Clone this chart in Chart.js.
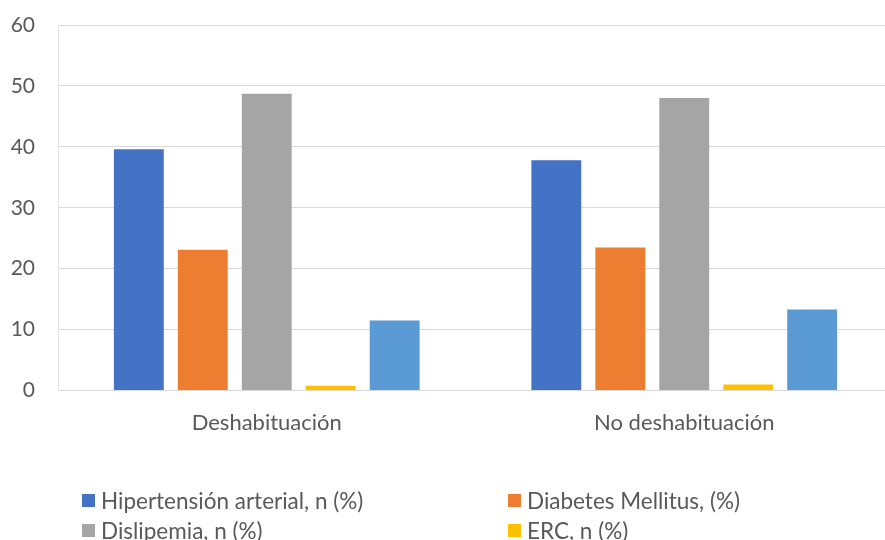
<!DOCTYPE html>
<html lang="es">
<head>
<meta charset="utf-8">
<title>Comorbilidades según deshabituación</title>
<script src="https://cdn.jsdelivr.net/npm/chart.js@4"></script>
<style>
  html, body { margin: 0; padding: 0; background: #ffffff; }
  body { width: 885px; height: 540px; overflow: hidden; position: relative; font-family: Lato, "Open Sans", sans-serif; }
  #wrap { position: absolute; left: 0; top: 0; width: 895px; height: 464px; }
  #legend { position: absolute; left: 0; top: 0; width: 885px; height: 540px; pointer-events: none; }
  .item { position: absolute; display: flex; align-items: center; color: #595959; font-size: 22.5px; white-space: nowrap; height: 30px; }
  .sw { width: 13px; height: 13px; margin-right: 6px; flex: none; }
</style>
</head>
<body>
<div id="wrap"><canvas id="chart" width="895" height="464"></canvas></div>
<div id="legend"></div>
<script>
// Categories and series values (%)
const categories = ["Deshabituación", "No deshabituación"];
const seriesNames = [
  "Hipertensión arterial, n (%)",
  "Diabetes Mellitus, (%)",
  "Dislipemia, n (%)",
  "ERC, n (%)",
  "Cardiopatía, n (%)"
];
const hipertension = [39.6, 37.8];
const diabetes = [23.1, 23.5];
const dislipemia = [48.7, 48.0];
const erc = [0.8, 1.0];
const cardiopatia = [11.5, 13.3];
const yTicks = [0, 10, 20, 30, 40, 50, 60];

const colors = ["#4472C4", "#ED7D31", "#A5A5A5", "#FFC000", "#5B9BD5"];
const seriesValues = [hipertension, diabetes, dislipemia, erc, cardiopatia];

const datasets = seriesNames.map((name, i) => ({
  label: name,
  data: seriesValues[i],
  backgroundColor: colors[i],
  borderWidth: 0,
  categoryPercentage: 0.766,
  barPercentage: 0.78
}));

new Chart(document.getElementById("chart"), {
  type: "bar",
  data: { labels: categories, datasets },
  options: {
    responsive: false,
    animation: false,
    layout: { padding: { top: 25, right: 2, bottom: 9, left: 0 } },
    plugins: { legend: { display: false }, tooltip: { enabled: false } },
    scales: {
      x: {
        grid: { display: false, drawTicks: false },
        border: { display: true, color: "#d9d9d9", width: 1 },
        ticks: { color: "#595959", font: { family: "Lato", size: 22 }, padding: 19 }
      },
      y: {
        min: 0,
        max: 60,
        afterBuildTicks: (scale) => { scale.ticks = yTicks.map(v => ({ value: v })); },
        afterFit: (scale) => {
          scale.width = 58;
          scale.paddingTop = 0;
          scale.paddingBottom = 0;
        },
        grid: { color: "#d9d9d9", lineWidth: 1, drawTicks: false },
        border: { display: true, color: "#e3e3e3", width: 1 },
        ticks: { color: "#595959", font: { family: "Lato", size: 21 }, padding: 23 }
      }
    }
  }
});

// Two-column legend below the plot; the last entry falls outside the frame
const legend = document.getElementById("legend");
const cols = [82, 508];
const rows = [485, 515, 545];
seriesNames.forEach((name, i) => {
  const el = document.createElement("div");
  el.className = "item";
  el.style.left = cols[i % 2] + "px";
  el.style.top = rows[Math.floor(i / 2)] + "px";
  const sw = document.createElement("span");
  sw.className = "sw";
  sw.style.background = colors[i];
  const tx = document.createElement("span");
  tx.textContent = name;
  el.appendChild(sw);
  el.appendChild(tx);
  legend.appendChild(el);
});
</script>
</body>
</html>
